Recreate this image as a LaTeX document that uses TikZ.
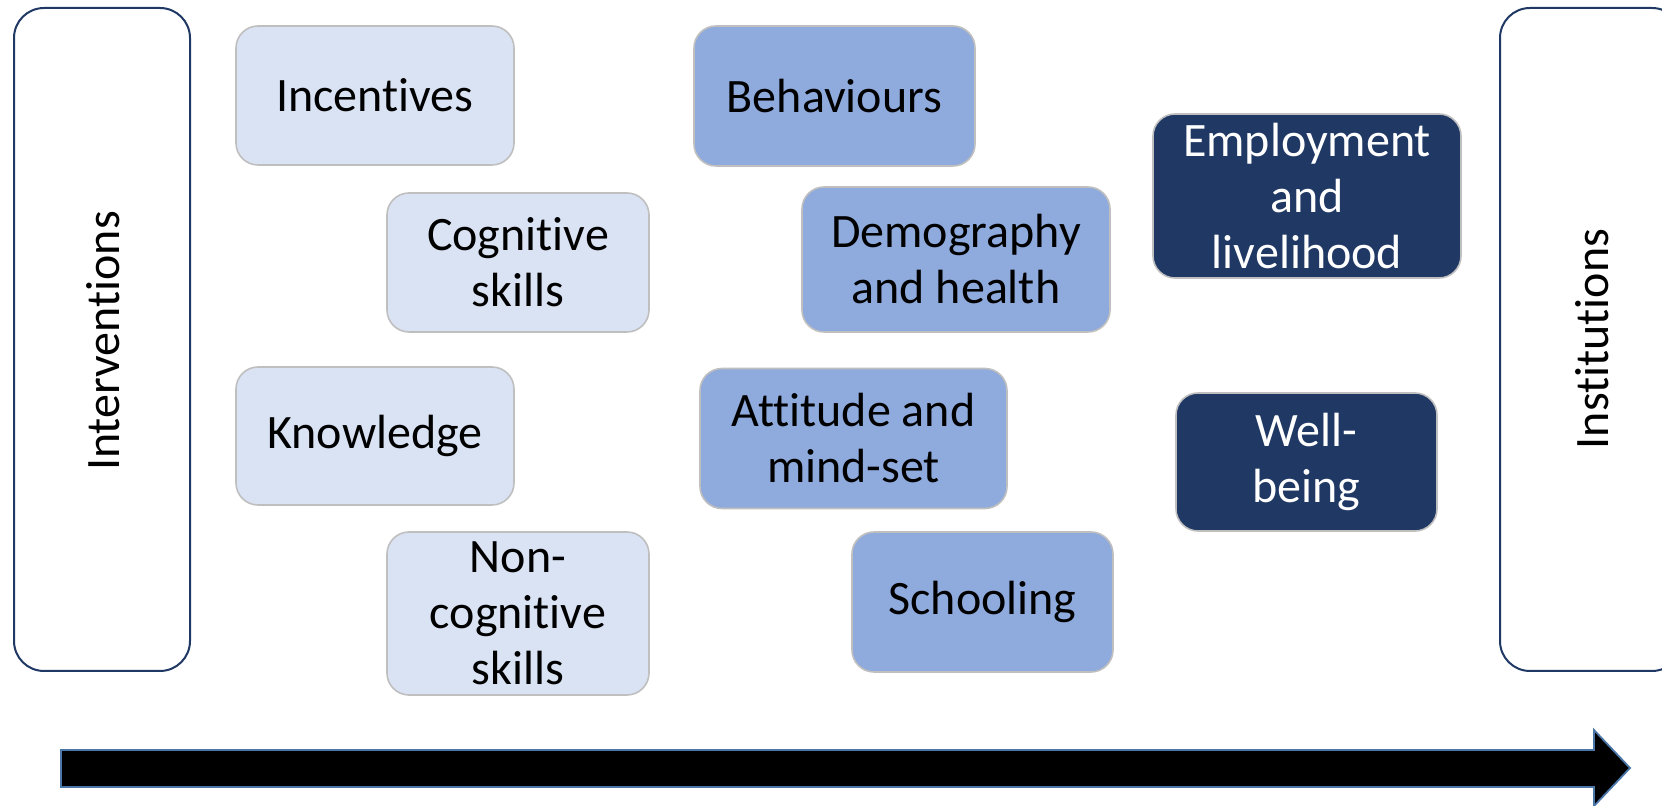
\documentclass[tikz,border=0pt]{standalone}
\usepackage{fontspec}
\setmainfont{Carlito}[Ligatures=NoCommon, Contextuals=NoAlternate]
\definecolor{lightbox}{HTML}{DAE3F3}
\definecolor{midbox}{HTML}{8FAADC}
\definecolor{darkbox}{HTML}{203864}
\definecolor{boxedge}{HTML}{BFBFBF}
\definecolor{frameedge}{HTML}{1F3864}
\definecolor{arrowedge}{HTML}{4A76A8}
\begin{document}
\begin{tikzpicture}[x=0.5pt,y=-0.5pt,
  every node/.style={font=\fontsize{24}{28}\selectfont},
  card/.style={rectangle, rounded corners=11pt, draw=boxedge, line width=0.8pt, align=center, inner sep=0pt},
  lightcard/.style={card, fill=lightbox, text=black},
  midcard/.style={card, fill=midbox, text=black},
  darkcard/.style={card, fill=darkbox, text=white},
  frame/.style={rectangle, rounded corners=15pt, draw=frameedge, line width=1pt, fill=white, inner sep=0pt}]
\useasboundingbox (0,0) rectangle (1662,806);
\clip (0,0) rectangle (1662,806);

% side frames
\node[frame, minimum width=88pt, minimum height=331.5pt] (intv) at (102,339.5) {};
\node[rotate=90] (intvtext) at (103,341) {Interventions};
\node[frame, minimum width=91pt, minimum height=331.5pt] (inst) at (1591,339.5) {};
\node[rotate=90] (insttext) at (1592,339) {Institutions};

% light boxes
\node[lightcard, minimum width=139pt, minimum height=69.5pt] (inc) at (375,95.5) {Incentives};
\node[lightcard, minimum width=131pt, minimum height=69.5pt] (cog) at (518,262.5) {Cognitive\\skills};
\node[lightcard, minimum width=139pt, minimum height=69pt] (know) at (375,436) {Knowledge};
\node[lightcard, minimum width=131pt, minimum height=81.5pt] (noncog) at (518,613.5) {Non-\\cognitive\\skills};

% medium boxes
\node[midcard, minimum width=140.5pt, minimum height=70pt] (beh) at (834.5,96) {Behaviours};
\node[midcard, minimum width=154pt, minimum height=72.5pt] (demo) at (956,259.5) {Demography\\and health};
\node[midcard, minimum width=153.5pt, minimum height=70pt] (att) at (853.5,438.5) {Attitude and\\mind-set};
\node[midcard, minimum width=130.5pt, minimum height=70pt] (school) at (982.5,602) {Schooling};

% dark boxes
\node[darkcard, minimum width=154pt, minimum height=82pt] (emp) at (1307,196) {Employment\\and\\livelihood};
\node[darkcard, minimum width=130.5pt, minimum height=69pt] (well) at (1306.5,462) {Well-\\being};

% big arrow
\draw[fill=black, draw=arrowedge, line width=0.9pt, line join=miter]
  (61,750) -- (1594,750) -- (1594,730) -- (1630,768) -- (1594,806) -- (1594,787) -- (61,787) -- cycle;
\end{tikzpicture}
\end{document}
